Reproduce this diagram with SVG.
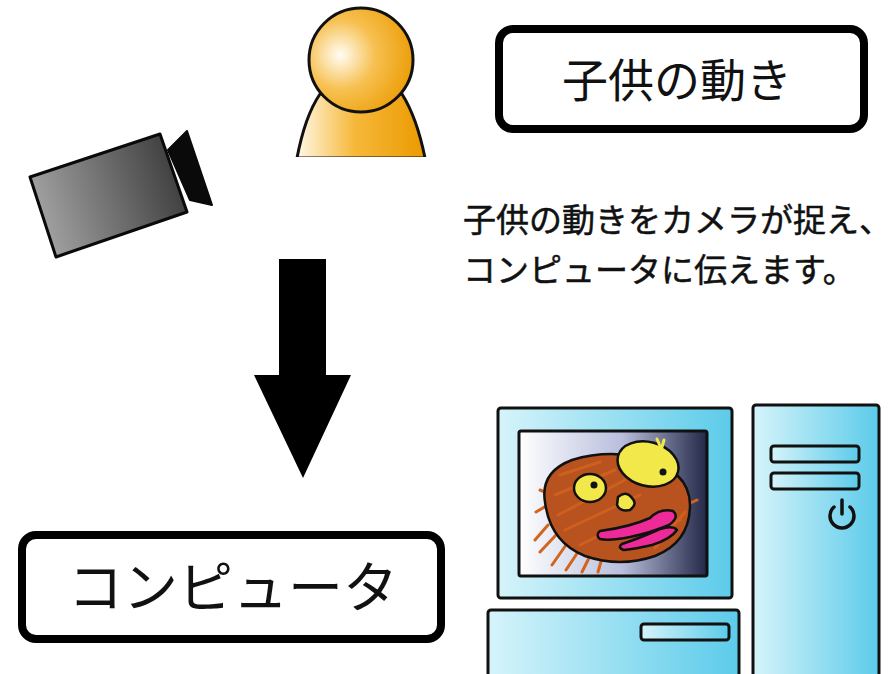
<svg xmlns="http://www.w3.org/2000/svg" width="893" height="674" viewBox="0 0 893 674">
  <defs>
    <radialGradient id="headGrad" cx="0.3" cy="0.45" r="0.75">
      <stop offset="0" stop-color="#fffdf5"/>
      <stop offset="0.45" stop-color="#f7c050"/>
      <stop offset="1" stop-color="#eb9a00"/>
    </radialGradient>
    <linearGradient id="bodyGrad" x1="0" y1="0" x2="1" y2="0">
      <stop offset="0" stop-color="#fff8e6"/>
      <stop offset="0.45" stop-color="#f6b83a"/>
      <stop offset="1" stop-color="#eb9a00"/>
    </linearGradient>
    <linearGradient id="camGrad" gradientUnits="userSpaceOnUse" x1="30" y1="220" x2="185" y2="170">
      <stop offset="0" stop-color="#a8a8a8"/>
      <stop offset="1" stop-color="#3a3a3a"/>
    </linearGradient>
    <linearGradient id="pcGrad" x1="0" y1="0" x2="1" y2="0">
      <stop offset="0" stop-color="#d6f4fa"/>
      <stop offset="1" stop-color="#5ccbea"/>
    </linearGradient>
    <linearGradient id="screenGrad" x1="0" y1="0" x2="1" y2="0">
      <stop offset="0" stop-color="#ffffff"/>
      <stop offset="0.55" stop-color="#b8bedc"/>
      <stop offset="1" stop-color="#242848"/>
    </linearGradient>
  </defs>
  <style>
    .label { fill: #ffffff; stroke: #000000; stroke-width: 8; }
    .jp { font-family: "Noto Sans CJK JP", "Noto Sans CJK SC", sans-serif; fill: #111111; }
    .desc { stroke: #111111; stroke-width: 0.5; }
    .pc { fill: url(#pcGrad); stroke: #111111; stroke-width: 3; }
    .ink { stroke: #111111; stroke-width: 2.5; stroke-linejoin: round; }
    .scribble { fill: none; stroke: #d2641e; stroke-width: 3; stroke-linecap: round; }
  </style>

  <rect width="893" height="674" fill="#ffffff"/>

  <!-- person -->
  <g id="person">
    <path d="M297,158 Q305,116 320,94 L402,94 Q417,118 425,158 Z" fill="url(#bodyGrad)" stroke="#111" stroke-width="3" stroke-linejoin="round"/>
    <rect x="295" y="157" width="132" height="4" fill="#ffffff"/>
    <circle cx="361" cy="60" r="52" fill="url(#headGrad)" stroke="#111" stroke-width="3"/>
  </g>

  <!-- video camera -->
  <g id="camera">
    <polygon points="168,150 187,131 212,205 190,200" fill="#0a0a0a" stroke="#0a0a0a" stroke-width="2" stroke-linejoin="round"/>
    <polygon points="30,177 160,134 187,212 56,257" fill="url(#camGrad)" stroke="#0a0a0a" stroke-width="3" stroke-linejoin="round"/>
  </g>

  <!-- label: child movement -->
  <g id="label-motion">
    <rect class="label" x="499" y="29" width="365" height="100" rx="14"/>
    <text class="jp" x="677" y="97" font-size="46" text-anchor="middle">子供の動き</text>
  </g>

  <!-- description -->
  <g id="description">
    <text class="jp desc" x="463" y="232" font-size="33">子供の動きをカメラが捉え、</text>
    <text class="jp desc" x="463" y="282" font-size="33">コンピュータに伝えます。</text>
  </g>

  <!-- flow arrow -->
  <g id="connectors">
    <polygon points="279,259 326,259 326,375 351,375 303,478 254,375 279,375" fill="#000000"/>
  </g>

  <!-- label: computer -->
  <g id="label-computer">
    <rect class="label" x="22" y="535" width="419" height="104" rx="14"/>
    <text class="jp" x="233" y="607" font-size="55" text-anchor="middle">コンピュータ</text>
  </g>

  <!-- computer illustration -->
  <g id="computer">
    <!-- tower -->
    <rect class="pc" x="753" y="405" width="126" height="280" rx="3"/>
    <rect class="pc" x="771" y="446" width="88" height="16" rx="3"/>
    <rect class="pc" x="771" y="473" width="88" height="16" rx="3"/>
    <path d="M834,507 A12,12 0 1,0 850,507" fill="none" stroke="#111" stroke-width="3.5" stroke-linecap="round"/>
    <line x1="842" y1="500" x2="842" y2="514" stroke="#111" stroke-width="3.5" stroke-linecap="round"/>
    <!-- base unit -->
    <rect class="pc" x="488" y="610" width="251" height="80" rx="3"/>
    <rect class="pc" x="641" y="624" width="88" height="16" rx="3"/>
    <!-- monitor -->
    <rect class="pc" x="498" y="408" width="234" height="190" rx="3"/>
    <rect x="519" y="431" width="188" height="145" rx="2" fill="url(#screenGrad)" stroke="#111" stroke-width="3"/>

    <!-- drawing on the screen -->
    <g id="screen-picture">
      <path class="scribble" d="M548,525 L535,540 M556,535 L540,552 M566,545 L552,565 M578,552 L566,570 M590,556 L582,572 M602,558 L598,572 M548,505 L536,512 M552,495 L540,490 M686,505 L697,500"/>
      <path d="M545,502 Q540,472 572,460 Q605,450 640,457 Q690,470 690,505 Q690,542 655,556 Q620,568 585,556 Q550,542 545,502 Z" fill="#b8521e" stroke="#111" stroke-width="2.5"/>
      <path class="scribble" d="M560,475 L600,462 M555,495 L615,470 M558,515 L625,480 M565,530 L640,495 M580,545 L600,535 M620,550 L680,520 M640,470 L670,480 M655,548 L685,512" stroke="#e07a3a" stroke-width="2" opacity="0.8"/>
      <ellipse cx="648" cy="464" rx="31" ry="22" transform="rotate(15 648 464)" fill="#f2e84a" class="ink"/>
      <path d="M657,439 L660,446 M664,440 L662,447" stroke="#f2e84a" stroke-width="3" stroke-linecap="round"/>
      <circle cx="663" cy="472" r="3.5" fill="#111"/>
      <ellipse cx="590" cy="488" rx="16" ry="14" fill="#f2e84a" class="ink"/>
      <circle cx="594" cy="485" r="3.5" fill="#111"/>
      <path d="M618,497 Q626,490 632,498 Q638,504 630,510 Q620,512 617,505 Z" fill="#f2e84a" class="ink"/>
      <path d="M600,531 Q630,527 650,518 Q660,508 673,511 Q680,517 669,525 Q650,533 630,537 Q610,541 600,539 Q595,535 600,531 Z" fill="#ee2a98" class="ink"/>
      <path d="M622,544 Q640,538 660,529 Q673,525 677,530 Q671,539 652,545 Q635,549 624,550 Q617,548 622,544 Z" fill="#ee2a98" class="ink"/>
    </g>
  </g>
</svg>
